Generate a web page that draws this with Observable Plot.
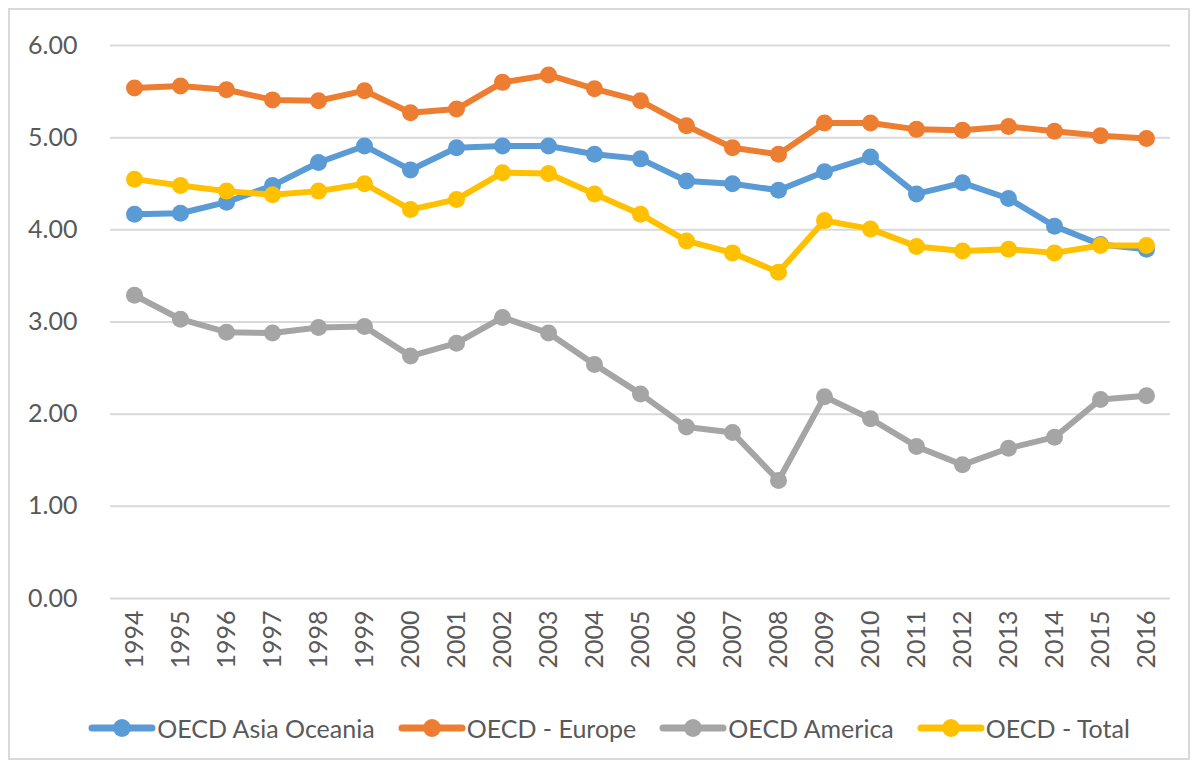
<!DOCTYPE html>
<html>
<head>
<meta charset="utf-8">
<script src="https://cdn.jsdelivr.net/npm/d3@7"></script>
<script src="https://cdn.jsdelivr.net/npm/@observablehq/plot@0.6"></script>
<style>
  html, body { margin: 0; padding: 0; background: #fff; }
  #wrap { position: relative; width: 1200px; height: 769px; font-family: Lato, "Open Sans", sans-serif; }
  #frame { position: absolute; left: 8px; top: 8px; width: 1182px; height: 752px; border: 2px solid #d9d9d9; box-sizing: border-box; pointer-events: none; }
  #chart { position: absolute; left: 0; top: 0; }
  #legend { position: absolute; left: 0; top: 712px; width: 1200px; height: 32px; display: flex; justify-content: center; align-items: center; gap: 23px; color: #595959; font-size: 25px; padding-left: 18px; box-sizing: border-box; }
  .item { display: flex; align-items: center; }
  .item svg { display: block; margin-right: 1px; }
</style>
</head>
<body>
<div id="wrap">
  <div id="chart"></div>
  <div id="legend"></div>
  <div id="frame"></div>
</div>
<script>
const years = ["1994","1995","1996","1997","1998","1999","2000","2001","2002","2003","2004","2005","2006","2007","2008","2009","2010","2011","2012","2013","2014","2015","2016"];
const seriesNames = ["OECD Asia Oceania", "OECD - Europe", "OECD America", "OECD - Total"];
const seriesColors = ["#5B9BD5", "#ED7D31", "#A5A5A5", "#FFC000"];
const asiaOceania = [4.17,4.18,4.30,4.48,4.73,4.91,4.65,4.89,4.91,4.91,4.82,4.77,4.53,4.50,4.43,4.63,4.79,4.39,4.51,4.34,4.04,3.84,3.79];
const europe      = [5.54,5.56,5.52,5.41,5.40,5.51,5.27,5.31,5.60,5.68,5.53,5.40,5.13,4.89,4.82,5.16,5.16,5.09,5.08,5.12,5.07,5.02,4.99];
const america     = [3.29,3.03,2.89,2.88,2.94,2.95,2.63,2.77,3.05,2.88,2.54,2.22,1.86,1.80,1.28,2.19,1.95,1.65,1.45,1.63,1.75,2.16,2.20];
const total       = [4.55,4.48,4.42,4.38,4.42,4.50,4.22,4.33,4.62,4.61,4.39,4.17,3.88,3.75,3.54,4.10,4.01,3.82,3.77,3.79,3.75,3.83,3.83];
const yTicks = [0, 1, 2, 3, 4, 5, 6];

const allValues = [asiaOceania, europe, america, total];
const rows = [];
allValues.forEach((vals, si) => {
  vals.forEach((v, i) => rows.push({series: seriesNames[si], year: years[i], value: v}));
});

const marks = [
  Plot.ruleY(yTicks, {stroke: "#d9d9d9", strokeWidth: 2})
];
seriesNames.forEach((name) => {
  const d = rows.filter(r => r.series === name);
  marks.push(Plot.line(d, {x: "year", y: "value", stroke: "series", strokeWidth: 6, strokeLinejoin: "round", strokeLinecap: "round"}));
  marks.push(Plot.dot(d, {x: "year", y: "value", fill: "series", r: 8.5, stroke: "none"}));
});
marks.push(Plot.axisY(yTicks, {tickSize: 0, tickPadding: 33, tickFormat: d3.format(".2f"), fontSize: 25, fill: "#595959", label: null}));
marks.push(Plot.axisX({tickSize: 0, tickPadding: 12, tickRotate: -90, fontSize: 25, fill: "#595959", label: null}));

const chart = Plot.plot({
  width: 1200,
  height: 690,
  marginTop: 45,
  marginBottom: 92,
  marginLeft: 110,
  marginRight: 30,
  style: {fontFamily: "Lato, 'Open Sans', sans-serif", background: "transparent"},
  x: {type: "point", domain: years, padding: 0.5},
  y: {domain: [0, 6], range: [598, 45]},
  color: {domain: seriesNames, range: seriesColors},
  marks
});
document.getElementById("chart").appendChild(chart);

const legend = document.getElementById("legend");
seriesNames.forEach((name, i) => {
  const item = document.createElement("div");
  item.className = "item";
  item.innerHTML = `<svg width="68" height="22"><line x1="4" y1="11" x2="64" y2="11" stroke="${seriesColors[i]}" stroke-width="7" stroke-linecap="round"/><circle cx="34" cy="11" r="9" fill="${seriesColors[i]}"/></svg><span>${name}</span>`;
  legend.appendChild(item);
});
</script>
</body>
</html>
